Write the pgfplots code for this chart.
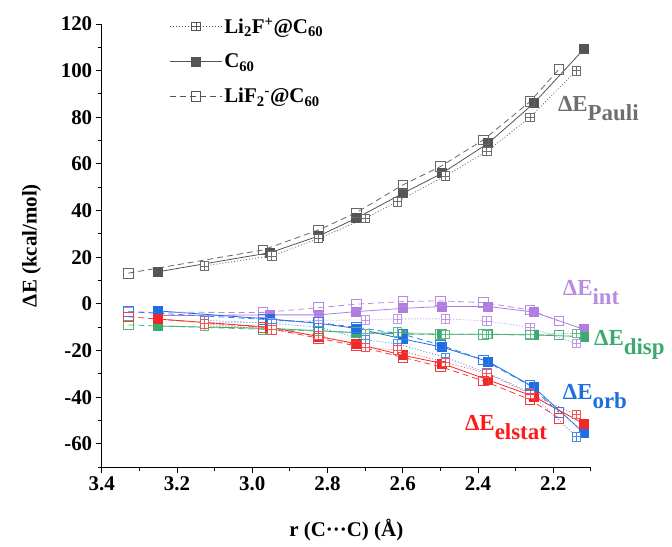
\documentclass[border=0pt]{standalone}
\usepackage{fontspec}
\setmainfont{Liberation Serif}
\usepackage{pgfplots}
\pgfplotsset{compat=1.18}

\definecolor{cpau}{HTML}{555555}
\definecolor{cint}{HTML}{B07CE0}
\definecolor{cdis}{HTML}{3CAA6E}
\definecolor{corb}{HTML}{1E6EE1}
\definecolor{cels}{HTML}{F02828}
\definecolor{lpau}{HTML}{6E6E6E}
\definecolor{lint}{HTML}{B98BE3}
\definecolor{lels}{HTML}{FF1A1A}

% square with a cross inside
\pgfdeclareplotmark{boxplus}{%
  \pgfpathrectangle{\pgfqpoint{-\pgfplotmarksize}{-\pgfplotmarksize}}{\pgfqpoint{2\pgfplotmarksize}{2\pgfplotmarksize}}%
  \pgfusepathqfillstroke
  \pgfpathmoveto{\pgfqpoint{-\pgfplotmarksize}{0pt}}\pgfpathlineto{\pgfqpoint{\pgfplotmarksize}{0pt}}%
  \pgfpathmoveto{\pgfqpoint{0pt}{-\pgfplotmarksize}}\pgfpathlineto{\pgfqpoint{0pt}{\pgfplotmarksize}}%
  \pgfusepathqstroke}

\pgfplotsset{
  c60/.style={solid, line width=0.8bp, mark=square*, mark size=4.5bp, forget plot},
  lip/.style={dash pattern=on 1bp off 2bp, line width=0.8bp, mark=boxplus, mark size=4.2bp,
              mark options={solid, fill=white, line width=0.7bp}, forget plot},
  lin/.style={dash pattern=on 6bp off 4bp, line width=0.8bp, mark=square, mark size=4.8bp,
              mark options={solid, fill=white, line width=0.8bp}, forget plot},
}

\begin{document}
\begin{tikzpicture}
\begin{axis}[
  name=ax,
  scale only axis, width=489bp, height=443bp,
  x dir=reverse, xmin=2.1, xmax=3.4, ymin=-70, ymax=120,
  axis x line*=bottom, axis y line*=left,
  axis line style={-, line width=1bp},
  clip=false,
  xtick={2.2,2.4,2.6,2.8,3.0,3.2,3.4},
  minor xtick={2.1,2.3,2.5,2.7,2.9,3.1,3.3},
  ytick={-60,-40,...,120},
  minor ytick={-70,-50,...,110},
  tick align=outside,
  major tick length=6bp, minor tick length=4bp,
  tick style={black, line width=1bp},
  ticklabel style={font=\fontsize{21}{21}\selectfont\bfseries},
  /pgf/number format/assume math mode=true,
  xticklabel style={/pgf/number format/.cd, fixed, fixed zerofill, precision=1},
  xlabel={\bfseries r (C···C) (Å)},
  ylabel={\bfseries ΔE (kcal/mol)},
  label style={font=\fontsize{21}{21}\selectfont},
  xlabel style={yshift=-21bp},
  ylabel style={yshift=13bp},
  legend style={draw=none, fill=none, at={(0.138,1.019)}, anchor=north west,
    font=\fontsize{21}{21}\selectfont\bfseries, row sep=15bp, inner xsep=0pt, inner ysep=0pt,
    /tikz/every even column/.append style={column sep=4bp}},
  legend cell align=left,
  legend image code/.code={\draw[mark repeat=2,mark phase=2] plot coordinates {(0bp,0bp) (26bp,0bp) (52bp,0bp)};},
]
\addlegendimage{cpau, dash pattern=on 1bp off 2bp, line width=0.8bp, mark=boxplus, mark size=4.2bp, mark options={solid, fill=white, line width=0.7bp}}
\addlegendentry{Li\textsubscript{2}F\textsuperscript{+}@C\textsubscript{60}}
\addlegendimage{cpau, solid, line width=0.8bp, mark=square*, mark size=4.5bp}
\addlegendentry{C\textsubscript{60}}
\addlegendimage{cpau, dash pattern=on 6bp off 4bp, line width=0.8bp, mark=square, mark size=4.8bp, mark options={solid, fill=white}}
\addlegendentry{LiF\textsubscript{2}\textsuperscript{-}@C\textsubscript{60}}

% ---- C60 (filled squares, solid) ----
\addplot[c60, cpau] coordinates {(3.25,13.8) (2.952,22.0) (2.824,29.1) (2.724,36.7) (2.60,47.4) (2.496,56.0) (2.373,68.9) (2.252,86.0) (2.119,109.2)};
\addplot[c60, cint] coordinates {(3.25,-5.0) (2.952,-4.7) (2.824,-4.7) (2.724,-3.3) (2.60,-1.9) (2.496,-1.1) (2.373,-1.1) (2.252,-3.5) (2.119,-10.9)};
\addplot[c60, cdis] coordinates {(3.25,-9.5) (2.952,-10.5) (2.824,-11.5) (2.724,-12.3) (2.60,-12.8) (2.496,-13.0) (2.373,-13.0) (2.252,-13.3) (2.119,-14.0)};
\addplot[c60, corb] coordinates {(3.25,-3.0) (2.952,-6.5) (2.824,-8.3) (2.724,-10.5) (2.60,-15.0) (2.496,-18.5) (2.373,-24.7) (2.252,-35.7) (2.119,-55.3)};
\addplot[c60, cels] coordinates {(3.25,-6.5) (2.952,-10.0) (2.824,-14.0) (2.724,-17.0) (2.60,-22.0) (2.496,-25.5) (2.373,-32.6) (2.252,-39.7) (2.119,-51.4)};

% ---- Li2F+@C60 (crossed squares, dotted) ----
\addplot[lip, cpau!85] coordinates {(3.127,16.3) (2.948,20.6) (2.824,28.0) (2.70,36.7) (2.615,43.8) (2.487,54.9) (2.377,65.3) (2.262,80.0) (2.139,100.0)};
\addplot[lip, cint!80] coordinates {(3.127,-8.0) (2.948,-8.0) (2.824,-7.0) (2.70,-6.9) (2.615,-6.4) (2.487,-6.4) (2.377,-7.3) (2.262,-10.0) (2.139,-17.0)};
\addplot[lip, cdis!80] coordinates {(3.127,-9.5) (2.948,-10.5) (2.824,-11.5) (2.70,-12.5) (2.615,-12.0) (2.487,-13.0) (2.377,-13.0) (2.262,-13.0) (2.139,-12.6)};
\addplot[lip, corb!80] coordinates {(3.127,-7.0) (2.948,-8.3) (2.824,-10.0) (2.70,-15.4) (2.615,-17.1) (2.487,-22.9) (2.377,-29.4) (2.262,-38.0) (2.139,-56.9)};
\addplot[lip, cels!80] coordinates {(3.127,-8.5) (2.948,-11.1) (2.824,-13.5) (2.70,-18.6) (2.615,-19.7) (2.487,-25.0) (2.377,-29.7) (2.262,-38.5) (2.139,-47.4)};

% ---- LiF2-@C60 (open squares, dashed) ----
\addplot[lin, cpau!90] coordinates {(3.329,13.2) (2.972,23.1) (2.824,31.7) (2.724,39.1) (2.60,51.0) (2.50,58.9) (2.386,70.3) (2.262,86.7) (2.185,100.6)};
\addplot[lin, cint!90] coordinates {(3.329,-3.5) (2.972,-3.7) (2.824,-1.6) (2.724,-0.1) (2.60,1.0) (2.50,1.3) (2.386,0.6) (2.262,-2.6) (2.185,-7.3)};
\addplot[lin, cdis!90] coordinates {(3.329,-9.0) (2.972,-10.9) (2.824,-11.6) (2.724,-12.3) (2.60,-13.0) (2.50,-13.0) (2.386,-13.0) (2.262,-13.3) (2.185,-13.3)};
\addplot[lin, corb!90] coordinates {(3.329,-3.3) (2.972,-6.6) (2.824,-8.0) (2.724,-10.0) (2.60,-13.0) (2.50,-17.6) (2.386,-24.0) (2.262,-35.0) (2.185,-46.5)};
\addplot[lin, cels!90] coordinates {(3.329,-5.5) (2.972,-10.0) (2.824,-14.7) (2.724,-18.0) (2.60,-22.9) (2.50,-26.9) (2.386,-33.0) (2.262,-41.0) (2.185,-49.0)};

% ---- term labels ----
\tikzset{lab/.style={anchor=base west, inner sep=0pt, font=\fontsize{23}{23}\selectfont\bfseries}}
\node[lab, text=lpau] at (axis cs:2.188,82.3) {ΔE\raisebox{-9bp}{Pauli}};
\node[lab, text=lint] at (axis cs:2.175,3.4) {ΔE\raisebox{-9bp}{int}};
\node[lab, text=cdis] at (axis cs:2.092,-18.0) {ΔE\raisebox{-9bp}{disp}};
\node[lab, text=corb] at (axis cs:2.175,-41.1) {ΔE\raisebox{-9bp}{orb}};
\node[lab, text=lels] at (axis cs:2.435,-54.4) {ΔE\raisebox{-9bp}{elstat}};
\end{axis}
\pgfresetboundingbox
\path ([shift={(-101.7bp,-79bp)}]ax.south west) rectangle ([shift={(81bp,24bp)}]ax.north east);
\end{tikzpicture}
\end{document}
